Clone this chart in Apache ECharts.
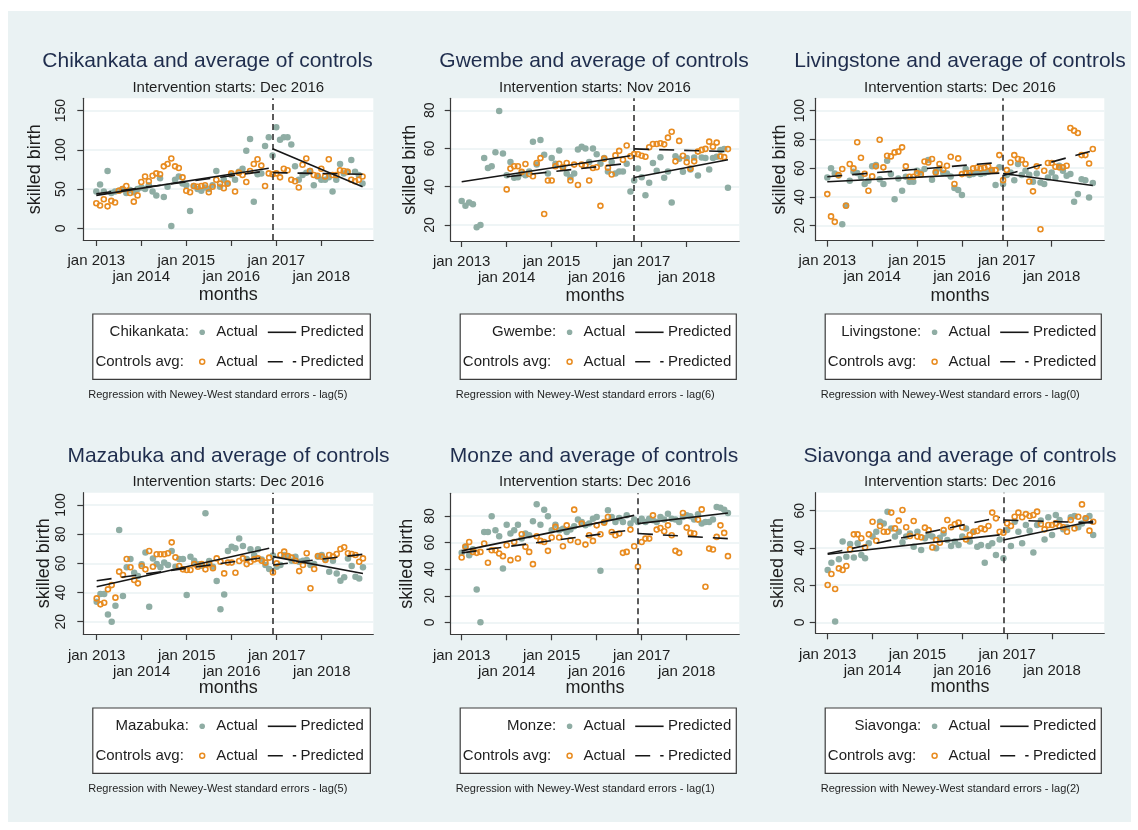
<!DOCTYPE html>
<html>
<head>
<meta charset="utf-8">
<title>Skilled births: districts and average of controls</title>
<script src="https://cdn.jsdelivr.net/npm/echarts@6/dist/echarts.min.js"></script>
<style>
  html, body { margin: 0; padding: 0; background: #ffffff; }
  #chart { width: 1138px; height: 830px; }
</style>
</head>
<body>
<div id="chart"></div>
<script>
// ---- data: monthly skilled births, Jan 2013 (month 0) to Dec 2018 (month 71) ----
const tickMonths = [0, 12, 24, 36, 48, 60];
const tickLabels = ['jan 2013', 'jan 2014', 'jan 2015', 'jan 2016', 'jan 2017', 'jan 2018'];

const districts = ['Chikankata', 'Gwembe', 'Livingstone', 'Mazabuka', 'Monze', 'Siavonga'];
const interventionMonth = [47, 46, 47, 47, 47, 47];
const interventionLabel = ['Dec 2016', 'Nov 2016', 'Dec 2016', 'Dec 2016', 'Dec 2016', 'Dec 2016'];
const neweyWestLag = [5, 6, 0, 5, 1, 2];

const yTicks = [
  [0, 50, 100, 150],
  [20, 40, 60, 80],
  [20, 40, 60, 80, 100],
  [20, 40, 60, 80, 100],
  [0, 20, 40, 60, 80],
  [0, 20, 40, 60]
];

const chikankataActual = [47,56,47,73,45,47,48,50,45,49, 46,50,52,50,55,47,42,64,40,53,
  3,62,66,57,55,22,54,50,48,52, 50,55,73,53,62,57,68,62,72,76, 99,114,34,69,70,105,116,93,129,113,
  116,116,107,79,62,68,71,73,55,66, 62,62,65,47,62,82,70,72,87,72, 68,57];
const chikankataControls = [32,29,37,28,35,33,48,50,54,45, 34,42,59,66,60,67,70,69,79,82,
  89,79,77,65,48,46,54,53,54,55, 46,53,62,57,51,57,70,47,71,68, 59,73,82,88,80,54,70,69,70,65,
  76,74,62,60,52,81,89,73,68,67, 76,66,88,68,68,74,73,72,62,60, 62,66];

const gwembeActual = [32.6,30,31.7,30.9,18.8,20,55,49.8,50.7,58.1, 79.7,57.4,46,53,44.7,45,47,46,48,63.6,
  51.6,64.5,56.7,46.9,55,52,59,50,47,45, 47,59.5,61,60,53,60,57,52,55,48, 53,47,48,48,52,37.5,43.3,49.5,45,35.5,
  42.1,52.4,48.4,55.5,44.7,48,31.7,55.9,54.7,47.8, 55,49,55.3,45.9,55.3,55,49,55,55.7,59.3, 59.8,39.5];
const gwembeControls = [null,null,null,null,null,null,null,null,null,null, null,null,
  38.6,49.5,50.7,50.7,47.8,51.9,46.7,45.5, 52.4,55,25.7,43.3,43.3,50.7,52,50.2,52.4,43.3,
  51.6,40.9,51.6,51.2,43.3,49.8,50.2,30,54.7,50, 46.4,56.4,58.8,54.1,61.6,56,57.1,57,56.2,55.7,
  60.7,62.4,62.4,62.8,62.2,65.7,68.8,53.3,64,56.2, 52.8,49.5,53.3,58.4,59.3,59.8,63.6,61,63.1,55.9, 55.5,59.7];

const livingstoneActual = [53.6,59.9,56.4,55,21.1,34,51.3,57.5,56.6,54, 49,51.3,61.3,62.2,52.4,49,65.2,55.9,38.5,52.9,
  44.3,54.1,50.6,50.6,58.2,57.1,59.4,65.7,52,57.5, 59.9,56.6,56.4,54.3,46.2,44.8,41.3,59.4,55.2,55.9,
  57.1,55.9,56.6,57.5,58.2,48.3,60.6,49,55.2,57.1, 51.7,62.9,55.2,58.2,55.4,50.6,56.4,50.1,49,53.6,
  57.1,53.6,61.7,58.2,54.8,55.9,36.7,42,52.4,51.7, 39.7,49.7];
const livingstoneControls = [42,26.5,22.7,55.2,59.4,33.9,62.9,59.9,78,67.3, 56.1,44.3,54.3,61.3,79.8,60.6,68.7,68.2,71,71.5,
  74.5,61.3,54.1,54.1,56.6,55.7,64.7,64,66.4,57.1, 62.9,58.9,61.7,68,49,66.8,55.9,56.6,56.6,59.9,
  60.3,59.9,60.3,61.3,58.7,58.7,69.1,51.7,58.7,64, 69.1,66.4,65.9,62.9,50.8,43.9,61.3,17.6,58.2,63.6,
  63.6,61,60.6,60.6,61.7,87.9,86.1,84.5,69.1,69.1, 63.3,73.3];

const mazabukaActual = [33.7,39,39,25,20,31,82.9,37.6,57.3,63, 53.6,51.3,59.3,67.5,30.3,63.4,59.5,57.3,60.5,58.9,
  68.5,57.7,63,63,38.3,64.6,61.8,59.3,58.4,94.3, 61.6,57.7,47.9,28.5,38.7,68.5,71.4,70.3,77.1,71.9,
  63,69.6,65.7,69.6,62.7,58.9,56.1,65.3,57.7,58.9, 65.7,64.6,61.8,64.6,61.1,61.8,62.3,58.9,59.5,64.6,
  65.7,63,54.3,61.8,53.1,48.1,50.4,63.4,58.2,50.9, 49.7,57.3];
const mazabukaControls = [36,31.9,33,42.2,45.1,36.5,54.3,52,63,57.3, 48.6,46.3,58.2,55.9,68.5,57.7,66.2,66.2,66.2,66.9,
  74.4,64.1,58.2,55.9,55.4,55.4,59.5,57.7,59.5,55.9, 59.5,56.6,63.4,61.1,53.1,60.5,60.5,53.6,61.6,63.4,
  59.5,61.1,62.7,63.4,61.8,60.5,63.9,53.8,60,65.7, 68,65,63.9,61.8,54.7,58.9,66.9,42.9,56.1,65,
  64.6,62.3,65.7,64.6,66.4,69.8,71,66.9,66.4,65.7, 61.1,63.4];

const monzeActual = [52.3,57,50.5,55,24.8,0,68,68,79.8,69.3, 64.8,40.5,73.5,66.8,69.3,73.5,63,66.8,65.5,76,
  88.8,73.5,84.8,79.8,69.3,73.5,69.3,70.5,68,69.8, 72.3,77.3,75.5,73,74.3,78,79.3,38.8,75.5,84.3,
  79.3,75.5,78.5,75.5,80.5,74.3,77.3,75.5,78,75.5, 78,76.8,75.5,79.3,77.3,81.8,78,77.3,75.5,79.3,
  80.5,79.8,77.3,81.3,74.3,75.5,75.5,77.3,86.8,86.3, 84.8,82.3];
const monzeControls = [48.8,56.8,60.5,53,52.3,53,59.3,44.8,54.3,54.3, 51.8,49.8,58,46.8,60.5,48,66.3,56.8,53,43.8,
  64.8,61.3,60.5,53.8,63.8,71.8,63.8,57.3,73,61.8, 84.8,60.5,74.3,58.5,65.5,61.3,73,66.3,75,79.3,
  68,65.5,66.8,52.3,53,69.8,57.3,41.8,60.5,63, 63,80.5,69.8,71,68.5,73,65.5,53.8,52.3,82.3,
  71.3,67.3,66.8,77.3,85,26.8,55.5,54.8,64.3,73, 67.3,49.8];

const siavongaActual = [28.1,32.1,0.4,33.9,43.4,35.3,42.1,34.8,42.5,36.2, 34.4,42.5,46.1,48.7,54.1,53.2,59.5,50.5,46.1,48.7,
  43,46.1,47.8,40.7,48.7,38.9,45.2,47,46.1,39.8, 45.5,47.8,44.3,41,43.4,41.6,46.1,50.5,43.4,48.7,
  40.7,41.6,32.1,41,42.5,36.2,44.6,34.4,49.6,41, 54.1,48.7,42.5,52.3,49.3,37.6,52.3,54.7,44.6,56.5,
  47,57.7,55,50,51.1,56.5,57.2,51.1,53.2,55.9, 57.2,47];
const siavongaControls = [20.1,26,17.9,29,28.1,30.3,39.2,47.3,47.3,45.2, 40.3,47.3,54.1,43.9,51.8,48.7,48.7,59,50.5,54.7,
  60.4,51.1,46.4,54.5,46.1,45.7,50.9,49.6,40.3,44.3, 42.8,49.6,55,51.1,52.7,53.6,51.1,44.6,47,48.7,
  49.1,50.5,50,51.8,59,55.9,48.7,48.2,53.2,51.8, 56.8,59,56.5,58.2,57.2,57.7,59.5,52.9,50,52.3,
  52.3,53.2,51.8,51.1,48.7,55,50.5,56.8,63.4,55.9, 49.3,54.1];

// fitted segmented trends: [pre start, pre end, post start, post end]
const chikankataPredicted = [42, 76.5, 101.5, 53];
const chikankataControlsPredicted = [44, 73.5, 71, 69];
const gwembePredicted = [42.6, 56.2, 44.8, 54.1];
const gwembeControlsPredicted = [45.2, 52.4, 59.8, 58.4];
const livingstonePredicted = [50.6, 56.6, 56.3, 48];
const livingstoneControlsPredicted = [54.1, 64, 55, 72.2];
const mazabukaPredicted = [44, 70.3, 64.6, 53.1];
const mazabukaControlsPredicted = [48.1, 64.5, 58.9, 66.2];
const monzePredicted = [53.8, 80.5, 74.3, 82.3];
const monzeControlsPredicted = [52.3, 69.8, 66.8, 63];
const siavongaPredicted = [36.6, 47, 44.3, 54.5];
const siavongaControlsPredicted = [37, 56.5, 55, 53.5];

// ---- assembly ----
const actualSeries = [chikankataActual, gwembeActual, livingstoneActual, mazabukaActual, monzeActual, siavongaActual];
const controlSeries = [chikankataControls, gwembeControls, livingstoneControls, mazabukaControls, monzeControls, siavongaControls];
const predTreated = [chikankataPredicted, gwembePredicted, livingstonePredicted, mazabukaPredicted, monzePredicted, siavongaPredicted];
const predControls = [chikankataControlsPredicted, gwembeControlsPredicted, livingstoneControlsPredicted,
  mazabukaControlsPredicted, monzeControlsPredicted, siavongaControlsPredicted];

const FONT = '"Liberation Sans", Arial, Helvetica, sans-serif';
const GREEN = '#8fada4';
const ORANGE = '#e88b1f';
const INK = '#1e1e1e';
const TITLE_INK = '#1f2d4d';
const AXIS = '#3a3a3a';
const PALE = '#eaf2f3';
const LAST_MONTH = 71;

// panel geometry (pixels) and axis ranges
const panels = [
  { left: 83.3,  top: 98.3,  width: 290,   height: 141.7, xMin: -3.47, xMax: 73.87, yMin: -14.9, yMax: 165.8, labMargin: 15,  nameGap: 39,   titleX: 207.5, row: 0 },
  { left: 450.7, top: 98.3,  width: 288.6, height: 142.7, xMin: -2.93, xMax: 74.03, yMin: 11.6,  yMax: 86.3,  labMargin: 14,  nameGap: 31.7, titleX: 594,   row: 0 },
  { left: 815.7, top: 98.3,  width: 288.6, height: 142.4, xMin: -3.1,  xMax: 74.07, yMin: 9.6,   yMax: 108.6, labMargin: 8.7, nameGap: 26.7, titleX: 960,   row: 0 },
  { left: 83.3,  top: 492.7, width: 290,   height: 141.3, xMin: -3.57, xMax: 73.76, yMin: 11.6,  yMax: 108.4, labMargin: 15,  nameGap: 29.3, titleX: 228.5, row: 1 },
  { left: 450.7, top: 493.3, width: 288.6, height: 141,   xMin: -2.93, xMax: 74.03, yMin: -9,    yMax: 97.1,  labMargin: 14,  nameGap: 35,   titleX: 594,   row: 1 },
  { left: 815.7, top: 492.7, width: 288.6, height: 140.6, xMin: -3.2,  xMax: 73.97, yMin: -5.9,  yMax: 69.7,  labMargin: 9,   nameGap: 28.4, titleX: 960,   row: 1 }
];
const rows = [
  { title: 61.7,  sub: 87.7,  xLabMargin: 13, xNameGap: 46, legendTop: 314, note: 395 },
  { title: 456.7, sub: 481.7, xLabMargin: 14, xNameGap: 45, legendTop: 708, note: 789 }
];

// tick labels alternate between two rows: even ticks on the first row, odd ticks below
const evenTicks = tickMonths.filter((m, k) => k % 2 === 0);
const oddTicks = tickMonths.filter((m, k) => k % 2 === 1);
function monthLabel(value) {
  const k = tickMonths.indexOf(Math.round(value));
  return k < 0 ? '' : tickLabels[k];
}

const grids = [], xAxes = [], yAxes = [], series = [], graphics = [];

// white margin around the light page
graphics.push(
  { type: 'rect', z: 0, shape: { x: 0, y: 0, width: 1138, height: 11 }, style: { fill: '#ffffff' } },
  { type: 'rect', z: 0, shape: { x: 0, y: 822, width: 1138, height: 8 }, style: { fill: '#ffffff' } },
  { type: 'rect', z: 0, shape: { x: 0, y: 0, width: 8, height: 830 }, style: { fill: '#ffffff' } },
  { type: 'rect', z: 0, shape: { x: 1131, y: 0, width: 7, height: 830 }, style: { fill: '#ffffff' } }
);

panels.forEach((p, i) => {
  const r = rows[p.row];
  const cx = p.left + p.width / 2;
  const cut = interventionMonth[i];
  const xMain = 2 * i;

  grids.push({ left: p.left, top: p.top, width: p.width, height: p.height, show: true,
    backgroundColor: '#ffffff', borderWidth: 0, containLabel: false });

  const labelText = { color: INK, fontSize: 15, fontFamily: FONT, formatter: monthLabel,
    showMinLabel: true, showMaxLabel: true, hideOverlap: false };

  // main time axis: line, all ticks, first-row labels, axis title
  xAxes.push({
    type: 'value', gridIndex: i, min: p.xMin, max: p.xMax, position: 'bottom',
    axisLine: { show: true, onZero: false, lineStyle: { color: AXIS, width: 1.2 } },
    axisTick: { show: true, length: 6, customValues: tickMonths, lineStyle: { color: AXIS, width: 1.2 } },
    axisLabel: Object.assign({ customValues: evenTicks, margin: r.xLabMargin }, labelText),
    splitLine: { show: false },
    name: 'months', nameLocation: 'middle', nameGap: r.xNameGap,
    nameTextStyle: { color: INK, fontSize: 18, fontFamily: FONT }
  });
  // companion axis carrying the second row of labels
  xAxes.push({
    type: 'value', gridIndex: i, min: p.xMin, max: p.xMax, position: 'bottom',
    axisLine: { show: false, onZero: false },
    axisTick: { show: false },
    axisLabel: Object.assign({ customValues: oddTicks, margin: r.xLabMargin + 16 }, labelText),
    splitLine: { show: false }
  });

  yAxes.push({
    type: 'value', gridIndex: i, min: p.yMin, max: p.yMax,
    axisLine: { show: true, onZero: false, lineStyle: { color: AXIS, width: 1.2 } },
    axisTick: { show: true, length: 6, customValues: yTicks[i], lineStyle: { color: AXIS, width: 1.2 } },
    axisLabel: { customValues: yTicks[i], rotate: 90, margin: p.labMargin,
      showMinLabel: true, showMaxLabel: true,
      color: INK, fontSize: 14, fontFamily: FONT },
    splitLine: { show: true, lineStyle: { color: PALE, width: 1.6 } },
    name: 'skilled birth', nameLocation: 'middle', nameGap: p.nameGap, nameRotate: 90,
    nameTextStyle: { color: INK, fontSize: 18, fontFamily: FONT }
  });

  const act = [], ctl = [];
  actualSeries[i].forEach((v, m) => { if (v != null) act.push([m, v]); });
  controlSeries[i].forEach((v, m) => { if (v != null) ctl.push([m, v]); });
  const ctlStart = ctl[0][0];

  series.push({
    type: 'scatter', name: districts[i] + ' actual', xAxisIndex: xMain, yAxisIndex: i, z: 2,
    symbol: 'circle', symbolSize: 6.5, itemStyle: { color: GREEN, opacity: 1 }, data: act,
    markLine: {
      silent: true, symbol: ['none', 'none'], label: { show: false },
      lineStyle: { color: '#333333', type: [6, 4], width: 1.6 },
      data: [{ xAxis: cut }]
    }
  });
  series.push({
    type: 'scatter', name: 'Controls avg actual', xAxisIndex: xMain, yAxisIndex: i, z: 3,
    symbol: 'circle', symbolSize: 5,
    itemStyle: { color: 'rgba(255,255,255,0)', borderColor: ORANGE, borderWidth: 1.6, opacity: 1 },
    data: ctl
  });

  const t = predTreated[i], c = predControls[i];
  const solid = { color: '#161616', width: 1.6, type: 'solid' };
  const dashed = { color: '#161616', width: 1.6, type: [15, 10] };
  const segs = [
    [[0, t[0]], [cut - 1, t[1]], solid],
    [[cut, t[2]], [LAST_MONTH, t[3]], solid],
    [[ctlStart, c[0]], [cut - 1, c[1]], dashed],
    [[cut, c[2]], [LAST_MONTH, c[3]], dashed]
  ];
  segs.forEach(s => series.push({
    type: 'line', xAxisIndex: xMain, yAxisIndex: i, z: 5, showSymbol: false, symbol: 'none',
    lineStyle: s[2], data: [s[0], s[1]]
  }));

  // titles
  graphics.push({ type: 'text', x: p.titleX, y: r.title, style: {
    text: districts[i] + ' and average of controls', fill: TITLE_INK, fontSize: 21, fontFamily: FONT,
    align: 'center', verticalAlign: 'middle' } });
  graphics.push({ type: 'text', x: cx, y: r.sub, style: {
    text: 'Intervention starts: ' + interventionLabel[i], fill: INK, fontSize: 15, fontFamily: FONT,
    align: 'center', verticalAlign: 'middle' } });

  // legend box
  const bx = p.left + 9.5, bw = p.width - 12.5, by = r.legendTop;
  const y1 = by + 18.3, y2 = by + 47.7;
  graphics.push(
    { type: 'rect', shape: { x: bx, y: by, width: bw, height: 65.3 },
      style: { fill: '#ffffff', stroke: '#3c3c3c', lineWidth: 1.2 } },
    { type: 'text', x: bx + 96, y: y1, style: { text: districts[i] + ':', fill: INK, fontSize: 15,
      fontFamily: FONT, align: 'right', verticalAlign: 'middle' } },
    { type: 'circle', shape: { cx: bx + 109.4, cy: y1, r: 2.8 }, style: { fill: GREEN } },
    { type: 'text', x: bx + 123.4, y: y1, style: { text: 'Actual', fill: INK, fontSize: 15,
      fontFamily: FONT, align: 'left', verticalAlign: 'middle' } },
    { type: 'line', shape: { x1: bx + 175, y1: y1, x2: bx + 203.4, y2: y1 },
      style: { stroke: '#161616', lineWidth: 1.6 } },
    { type: 'text', x: bx + 207.7, y: y1, style: { text: 'Predicted', fill: INK, fontSize: 15,
      fontFamily: FONT, align: 'left', verticalAlign: 'middle' } },
    { type: 'text', x: bx + 91, y: y2, style: { text: 'Controls avg:', fill: INK, fontSize: 15,
      fontFamily: FONT, align: 'right', verticalAlign: 'middle' } },
    { type: 'circle', shape: { cx: bx + 109.4, cy: y2, r: 2.5 },
      style: { fill: '#ffffff', stroke: ORANGE, lineWidth: 1.5 } },
    { type: 'text', x: bx + 123.4, y: y2, style: { text: 'Actual', fill: INK, fontSize: 15,
      fontFamily: FONT, align: 'left', verticalAlign: 'middle' } },
    { type: 'line', shape: { x1: bx + 175, y1: y2, x2: bx + 203.4, y2: y2 },
      style: { stroke: '#161616', lineWidth: 1.6, lineDash: [15, 10] } },
    { type: 'text', x: bx + 207.7, y: y2, style: { text: 'Predicted', fill: INK, fontSize: 15,
      fontFamily: FONT, align: 'left', verticalAlign: 'middle' } },
    { type: 'text', x: p.left + 5, y: r.note, style: {
      text: 'Regression with Newey-West standard errors - lag(' + neweyWestLag[i] + ')',
      fill: INK, fontSize: 11, fontFamily: FONT, align: 'left', verticalAlign: 'middle' } }
  );
});

const chart = echarts.init(document.getElementById('chart'), null, { renderer: 'canvas' });
chart.setOption({
  backgroundColor: PALE,
  animation: false,
  textStyle: { fontFamily: FONT },
  grid: grids,
  xAxis: xAxes,
  yAxis: yAxes,
  series: series,
  graphic: { elements: graphics },
  tooltip: { show: false }
});
</script>
</body>
</html>
